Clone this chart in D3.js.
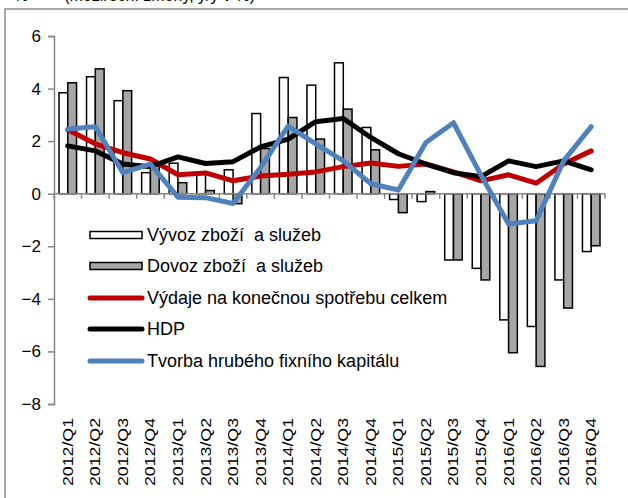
<!DOCTYPE html>
<html>
<head>
<meta charset="utf-8">
<script src="https://cdn.jsdelivr.net/npm/d3@7"></script>
<style>
  body { margin: 0; background: #fff; }
  svg { display: block; font-family: Arial, "Liberation Sans", sans-serif; }
</style>
</head>
<body>
<svg id="chart" width="628" height="498"></svg>
<script>
// quarterly data, y/y in %
var quarters = ["2012/Q1", "2012/Q2", "2012/Q3", "2012/Q4", "2013/Q1", "2013/Q2", "2013/Q3", "2013/Q4",
    "2014/Q1", "2014/Q2", "2014/Q3", "2014/Q4", "2015/Q1", "2015/Q2", "2015/Q3", "2015/Q4",
    "2016/Q1", "2016/Q2", "2016/Q3", "2016/Q4"];
var vyvoz = [3.84, 4.45, 3.54, 0.8, 1.16, 0.75, 0.91, 3.05, 4.42, 4.13, 4.98, 2.52,
    -0.22, -0.3, -2.52, -2.84, -4.8, -5.05, -3.28, -2.2];
var dovoz = [4.22, 4.75, 3.92, 1.05, 0.42, 0.12, -0.38, 1.72, 2.9, 2.08, 3.22, 1.67,
    -0.72, 0.08, -2.52, -3.28, -6.05, -6.57, -4.35, -1.98];
var vydaje = [2.43, 1.9, 1.56, 1.32, 0.72, 0.79, 0.49, 0.67, 0.74, 0.83, 1.03, 1.17,
    1.04, 1.13, 0.83, 0.49, 0.72, 0.4, 1.13, 1.63];
var hdp = [1.82, 1.63, 1.13, 1.03, 1.4, 1.15, 1.22, 1.78, 2.08, 2.74, 2.86, 2.14,
    1.52, 1.13, 0.8, 0.65, 1.25, 1.03, 1.25, 0.91];
var tvorba = [2.46, 2.55, 0.8, 1.13, -0.13, -0.15, -0.37, 1.0, 2.57, 1.9, 1.25, 0.38,
    0.14, 1.95, 2.7, 0.7, -1.15, -1.03, 1.25, 2.55];
var yTicks = [-8, -6, -4, -2, 0, 2, 4, 6];
var legendLabels = ["Vývoz zboží  a služeb", "Dovoz zboží  a služeb",
    "Výdaje na konečnou spotřebu celkem", "HDP", "Tvorba hrubého fixního kapitálu"];

var svg = d3.select("#chart");

// outer frame of the chart object
svg.append("rect")
    .attr("x", 5).attr("y", 9)
    .attr("width", 660).attr("height", 520)
    .attr("fill", "none")
    .attr("stroke", "#8c8c8c")
    .attr("stroke-width", 1.5);

// title above the frame, mostly outside the picture
svg.append("text")
    .attr("x", 14).attr("y", 1)
    .style("font-size", "16px")
    .text("%");
svg.append("text")
    .attr("x", 255).attr("y", 1)
    .attr("text-anchor", "end")
    .style("font-size", "16px")
    .text("(meziroční změny, y/y v %)");

var x = d3.scaleBand()
    .domain(quarters)
    .range([54, 605]);

var xs = d3.scaleBand()
    .domain(["vyvoz", "dovoz"])
    .range([5, x.step() - 5]);

var y = d3.scaleLinear()
    .domain([-8, 6])
    .range([404, 36]);

// y axis
var yAxis = svg.append("g")
    .attr("transform", "translate(54,0)")
    .call(d3.axisLeft(y).tickValues(yTicks).tickSize(6).tickPadding(7).tickFormat(d3.format("d")));
yAxis.select(".domain").attr("stroke", "#868686").attr("stroke-width", 1.5);
yAxis.selectAll(".tick line").attr("stroke", "#868686").attr("stroke-width", 1.5);
yAxis.selectAll(".tick text")
    .attr("fill", "#000")
    .style("font-size", "17px")
    .style("font-family", "Arial, 'Liberation Sans', sans-serif");

// bars
var rows = quarters.map(function(q, i) {
    return {q: q, vyvoz: vyvoz[i], dovoz: dovoz[i]};
});

var groups = svg.append("g").selectAll("g")
    .data(rows)
    .enter().append("g")
    .attr("transform", function(d) { return "translate(" + x(d.q) + ",0)"; });

groups.selectAll("rect")
    .data(function(d) {
        return [{k: "vyvoz", v: d.vyvoz}, {k: "dovoz", v: d.dovoz}];
    })
    .enter().append("rect")
    .attr("x", function(d) { return xs(d.k); })
    .attr("width", xs.bandwidth())
    .attr("y", function(d) { return y(Math.max(0, d.v)); })
    .attr("height", function(d) { return Math.abs(y(d.v) - y(0)); })
    .attr("fill", function(d) { return d.k == "vyvoz" ? "#ffffff" : "#a6a6a6"; })
    .attr("stroke", "#000")
    .attr("stroke-width", 1.5);

// x axis at zero with boundary ticks
var xAxis = svg.append("g");
xAxis.append("line")
    .attr("x1", x.range()[0]).attr("x2", x.range()[1])
    .attr("y1", y(0)).attr("y2", y(0))
    .attr("stroke", "#868686").attr("stroke-width", 1.5);
xAxis.selectAll(".xtick")
    .data(quarters.concat(["end"]))
    .enter().append("line")
    .attr("class", "xtick")
    .attr("x1", function(d) { return d == "end" ? x.range()[1] : x(d); })
    .attr("x2", function(d) { return d == "end" ? x.range()[1] : x(d); })
    .attr("y1", y(0)).attr("y2", y(0) + 5)
    .attr("stroke", "#868686").attr("stroke-width", 1.5);

// category labels, low position
svg.append("g").selectAll("text")
    .data(quarters)
    .enter().append("text")
    .attr("transform", function(d) {
        return "translate(" + (x(d) + x.bandwidth() / 2 + 5) + ",418) rotate(-90)";
    })
    .attr("text-anchor", "end")
    .attr("textLength", 68)
    .attr("lengthAdjust", "spacingAndGlyphs")
    .style("font-size", "14px")
    .text(function(d) { return d; });

// lines
var line = d3.line()
    .x(function(d, i) { return x(quarters[i]) + x.bandwidth() / 2; })
    .y(function(d) { return y(d); });

var series = [
    {values: vydaje, color: "#c00000"},
    {values: hdp, color: "#000000"},
    {values: tvorba, color: "#4f81bd"}
];

series.forEach(function(s) {
    svg.append("path")
        .datum(s.values)
        .attr("d", line)
        .attr("fill", "none")
        .attr("stroke", s.color)
        .attr("stroke-width", 5)
        .attr("stroke-linejoin", "round")
        .attr("stroke-linecap", "round");
});

// legend
var legend = svg.append("g");
var legendY = [235, 266, 298, 329, 361];

legend.selectAll("text")
    .data(legendLabels)
    .enter().append("text")
    .attr("x", 147)
    .attr("y", function(d, i) { return legendY[i]; })
    .attr("dy", "0.36em")
    .style("font-size", "18px")
    .style("white-space", "pre")
    .text(function(d) { return d; });

legend.append("rect")
    .attr("x", 90).attr("y", legendY[0] - 3.5)
    .attr("width", 52).attr("height", 7)
    .attr("fill", "#fff").attr("stroke", "#000").attr("stroke-width", 1.5);
legend.append("rect")
    .attr("x", 90).attr("y", legendY[1] - 3.5)
    .attr("width", 52).attr("height", 7)
    .attr("fill", "#a6a6a6").attr("stroke", "#000").attr("stroke-width", 1.5);

series.forEach(function(s, i) {
    legend.append("line")
        .attr("x1", 90).attr("x2", 142)
        .attr("y1", legendY[i + 2]).attr("y2", legendY[i + 2])
        .attr("stroke", s.color)
        .attr("stroke-width", 5)
        .attr("stroke-linecap", "round");
});
</script>
</body>
</html>
